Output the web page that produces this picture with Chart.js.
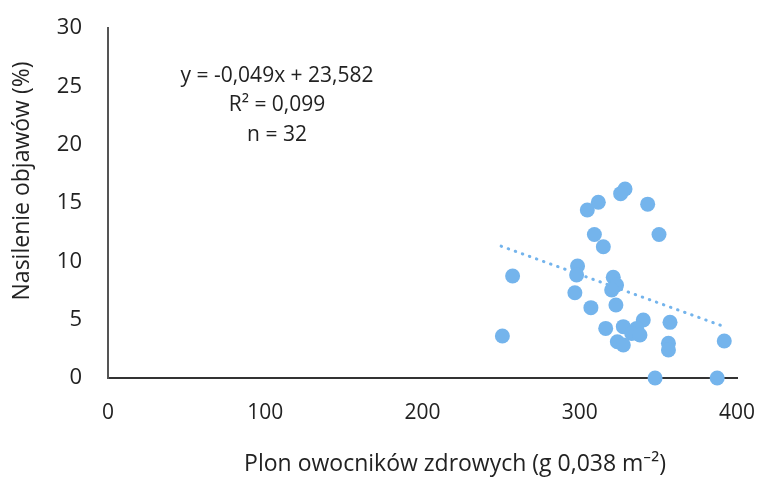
<!DOCTYPE html>
<html>
<head>
<meta charset="utf-8">
<script src="https://cdn.jsdelivr.net/npm/chart.js@4"></script>
<style>
  html, body { margin:0; padding:0; background:#fff; }
  #wrap { width:759px; height:477px; }
</style>
</head>
<body>
<div id="wrap"><canvas id="chart" width="759" height="477"></canvas></div>
<script>
// ===== Data =====
const yieldX = [328.8, 326, 311.8, 304.8, 343.2, 350.4, 309.3, 315, 257.3, 298.6,
                298, 321.3, 323.4, 320.3, 296.9, 307.1, 323, 316.5, 327.7, 340.4,
                336.2, 333, 338.3, 323.9, 327.7, 357.4, 356.4, 356.4, 250.8, 391.9,
                347.9, 387.4];
const severityY = [16.2, 15.8, 15.06, 14.4, 14.9, 12.3, 12.3, 11.25, 8.74, 9.6,
                   8.83, 8.63, 7.97, 7.54, 7.31, 6.03, 6.26, 4.25, 4.4, 4.97,
                   4.25, 3.82, 3.68, 3.11, 2.83, 4.77, 2.97, 2.4, 3.6, 3.17,
                   0, 0];
// trend line end points (y = -0,049x + 23,582)
const trendX = [250, 392];
const trendY = [11.3, 4.4];
const xTicks = [0, 100, 200, 300, 400];
const yTicks = [0, 5, 10, 15, 20, 25, 30];
const eqLines = ["y = -0,049x + 23,582", "R\u00B2 = 0,099", "n = 32"];
const xTitle = "Plon owocników zdrowych (g 0,038 m\u207B\u00B2)";
const yTitle = "Nasilenie objawów (%)";

const FONT = "'Open Sans', 'Noto Sans', sans-serif";
const TXT = "#222";
const BLUE = "#74b4ec";

// ===== Text labels (equation + axis titles) =====
const textPlugin = {
  id: "textLabels",
  afterDraw(chart){
    const ctx = chart.ctx;
    const ca = chart.chartArea;
    ctx.save();
    ctx.fillStyle = TXT;
    ctx.textAlign = "center";
    ctx.textBaseline = "middle";
    // regression equation
    ctx.font = "21px " + FONT;
    const cx = ca.left + 169;
    eqLines.forEach((t, i) => ctx.fillText(t, cx, ca.top + 48 + i * 29.5));
    // x title
    ctx.font = "23px " + FONT;
    ctx.fillText(xTitle, 455, 464);
    // y title
    ctx.translate(22, 181);
    ctx.rotate(-Math.PI / 2);
    ctx.fillText(yTitle, 0, 0);
    ctx.restore();
  }
};

const points = yieldX.map((x, i) => ({ x, y: severityY[i] }));
const trend = trendX.map((x, i) => ({ x, y: trendY[i] }));

function noPad(axis){
  axis.paddingTop = 0; axis.paddingBottom = 0;
  axis.paddingLeft = 0; axis.paddingRight = 0;
}

new Chart(document.getElementById("chart").getContext("2d"), {
  type: "scatter",
  data: {
    datasets: [
      {
        type: "line",
        data: trend,
        borderColor: BLUE,
        borderWidth: 3,
        borderDash: [0.5, 7],
        borderCapStyle: "round",
        pointRadius: 0,
        fill: false,
        order: 2
      },
      {
        data: points,
        backgroundColor: BLUE,
        borderColor: BLUE,
        borderWidth: 0,
        pointRadius: 7.5,
        pointHoverRadius: 7.5,
        clip: false,
        order: 1
      }
    ]
  },
  options: {
    responsive: false,
    animation: false,
    layout: { padding: { left: 10, right: 22, top: 28, bottom: 0 } },
    plugins: { legend: { display: false }, tooltip: { enabled: false } },
    scales: {
      x: {
        type: "linear",
        min: 0, max: 400,
        afterFit(axis){ axis.height = 99; noPad(axis); },
        afterBuildTicks(axis){ axis.ticks = xTicks.map(v => ({ value: v })); },
        grid: { color: "rgba(0,0,0,0)", drawTicks: false },
        border: { color: "#333", width: 2 },
        ticks: { padding: 22, color: TXT, font: { family: FONT, size: 21 } }
      },
      y: {
        type: "linear",
        min: 0, max: 30,
        afterFit(axis){ axis.width = 98; noPad(axis); },
        afterBuildTicks(axis){ axis.ticks = yTicks.map(v => ({ value: v })); },
        grid: { color: "rgba(0,0,0,0)", drawTicks: false },
        border: { color: "#555", width: 2 },
        ticks: { padding: 26, color: TXT, font: { family: FONT, size: 22 } }
      }
    }
  },
  plugins: [textPlugin]
});
</script>
</body>
</html>
